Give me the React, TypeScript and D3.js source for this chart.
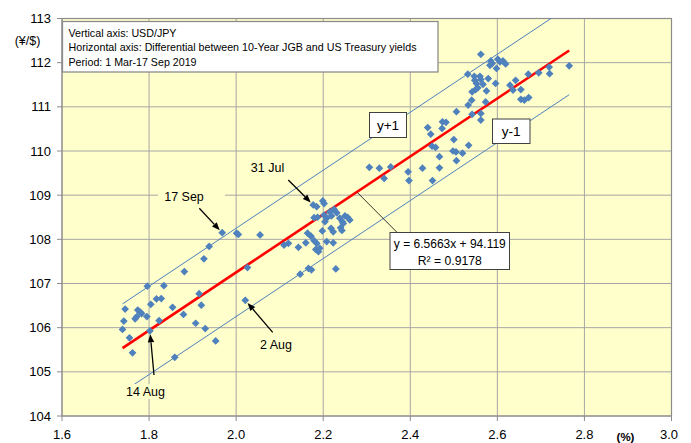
import React from 'react';
import * as d3 from 'd3';

// USD/JPY (y) vs US-Japan 10Y yield differential in % (x), 1 Mar - 17 Sep 2019
const points: [number, number][] = [
  [1.745, 106.42], [1.774, 106.40], [1.779, 106.36], [1.783, 106.32], [1.768, 106.20],
  [1.772, 106.25], [1.742, 106.15], [1.739, 105.96], [1.755, 105.77], [1.762, 105.43],
  [1.795, 106.25], [1.802, 105.93], [1.804, 106.53], [1.817, 106.65], [1.828, 106.66],
  [1.796, 106.94], [1.834, 106.95], [1.823, 106.16], [1.854, 106.46], [1.879, 106.30],
  [1.881, 107.27], [1.915, 106.77], [1.920, 106.51], [1.907, 106.10], [1.929, 105.98],
  [1.953, 105.70], [1.859, 105.33], [1.926, 107.56], [1.938, 107.84], [1.968, 108.15],
  [2.001, 108.14], [2.005, 108.11], [2.055, 108.10], [2.026, 107.36], [2.021, 106.62],
  [2.110, 107.87], [2.120, 107.91], [2.143, 107.82], [2.160, 107.92], [2.179, 107.97],
  [2.185, 107.91], [2.208, 107.95], [2.223, 107.92], [2.183, 107.77], [2.189, 107.72],
  [2.192, 107.80], [2.164, 108.14], [2.172, 108.07], [2.198, 108.19], [2.218, 108.25],
  [2.223, 108.17], [2.240, 108.26], [2.243, 108.20], [2.177, 108.78], [2.185, 108.74],
  [2.199, 108.87], [2.202, 108.81], [2.179, 108.49], [2.187, 108.50], [2.202, 108.55],
  [2.208, 108.48], [2.204, 108.40], [2.215, 108.62], [2.225, 108.68], [2.231, 108.60],
  [2.219, 108.53], [2.238, 108.48], [2.244, 108.40], [2.250, 108.53], [2.256, 108.50],
  [2.261, 108.44], [2.246, 108.36], [2.147, 107.21], [2.166, 107.34], [2.173, 107.31],
  [2.229, 107.33], [2.306, 109.63], [2.329, 109.61], [2.340, 109.38], [2.355, 109.64],
  [2.395, 109.53], [2.397, 109.33], [2.428, 109.61], [2.451, 109.33], [2.467, 109.62],
  [2.467, 109.87], [2.440, 110.53], [2.447, 110.38], [2.450, 110.11], [2.458, 110.08],
  [2.474, 110.66], [2.482, 110.65], [2.473, 110.51], [2.500, 110.26], [2.498, 110.00],
  [2.505, 109.98], [2.520, 109.95], [2.534, 110.13], [2.506, 109.78], [2.506, 110.89],
  [2.542, 110.83], [2.562, 110.85], [2.562, 110.70], [2.562, 112.19], [2.585, 112.04],
  [2.588, 111.98], [2.583, 111.94], [2.601, 112.08], [2.606, 112.02], [2.613, 112.04],
  [2.619, 111.97], [2.598, 111.87], [2.532, 111.74], [2.547, 111.69], [2.560, 111.69],
  [2.548, 111.60], [2.562, 111.62], [2.552, 111.53], [2.567, 111.51], [2.579, 111.64],
  [2.596, 111.53], [2.542, 111.34], [2.550, 111.39], [2.555, 111.43], [2.575, 111.36],
  [2.541, 111.15], [2.533, 111.04], [2.573, 111.11], [2.629, 111.49], [2.642, 111.60],
  [2.636, 111.38], [2.654, 111.39], [2.654, 111.17], [2.662, 111.15], [2.672, 111.21],
  [2.671, 111.74], [2.695, 111.77], [2.719, 111.90], [2.720, 111.75], [2.765, 111.93],
];

const xTicks = [1.6, 1.8, 2.0, 2.2, 2.4, 2.6, 2.8, 3.0];
const yTicks = [104, 105, 106, 107, 108, 109, 110, 111, 112, 113];

// linear fit shown on the chart
const slope = 6.5663;
const intercept = 94.119;
const rSquared = 0.9178;
const bandOffsets = [1, 0, -1];

const infoLines = [
  'Vertical axis: USD/JPY',
  'Horizontal axis: Differential between 10-Year JGB and US Treasury yields',
  'Period: 1 Mar-17 Sep 2019',
];
const infoWidths = [108, 348, 128];

const callouts = [
  { label: '17 Sep', x: 1.968, y: 108.15 },
  { label: '31 Jul', x: 2.177, y: 108.78 },
  { label: '2 Aug', x: 2.021, y: 106.62 },
  { label: '14 Aug', x: 1.802, y: 105.93 },
];

// text centre / arrow tail in pixels, one per callout
const calloutLayout = [
  { tx: 184, ty: 200.5, ax: 199.3, ay: 208.3, bg: [158, 188, 67, 16] },
  { tx: 267.5, ty: 171.5, ax: 288.3, ay: 180, bg: null },
  { tx: 276, ty: 349, ax: 272.7, ay: 332.3, bg: null },
  { tx: 145.5, ty: 396, ax: 154, ay: 375, bg: [122, 384, 48, 15] },
];

const W = 691;
const H = 443;
const left = 62;
const right = 671.5;
const top = 18.5;
const bottom = 416;
const plotFill = '#FFFFCC';
const gridColor = '#A6A6A6';
const dotColor = '#4F81BD';
const font = 'Liberation Sans, Arial, sans-serif';

export default function App() {
  const x = d3.scaleLinear().domain([1.6, 3.0]).range([left, right]);
  const y = d3.scaleLinear().domain([104, 113]).range([bottom, top]);

  const xMin = d3.min(points, (d) => d[0]) as number;
  const xMax = d3.max(points, (d) => d[0]) as number;

  const diamond = d3.symbol(d3.symbolSquare, 30)() as string;

  const fitPath = (off: number) =>
    d3
      .line<number>()
      .x((v) => x(v))
      .y((v) => y(slope * v + intercept + off))([xMin, xMax]) as string;

  return (
    <svg
      width={W}
      height={H}
      style={{ position: 'absolute', left: 0, top: 0, background: '#fff' }}
      fontFamily={font}
    >
      <defs>
        <clipPath id="plot">
          <rect x={left} y={top} width={right - left} height={bottom - top} />
        </clipPath>
      </defs>

      <rect x={left} y={top} width={right - left} height={bottom - top} fill={plotFill} />

      {/* grid */}
      {xTicks.map((t) => (
        <line key={'gx' + t} x1={x(t)} x2={x(t)} y1={top} y2={bottom} stroke={gridColor} strokeWidth={1} />
      ))}
      {yTicks.map((t) => (
        <line key={'gy' + t} x1={left} x2={right} y1={y(t)} y2={y(t)} stroke={gridColor} strokeWidth={1} />
      ))}

      {/* axes and ticks */}
      <rect x={left} y={top} width={right - left} height={bottom - top} fill="none" stroke="#8C8C8C" strokeWidth={1.2} />
      {yTicks.map((t) => (
        <g key={'yt' + t}>
          <line x1={left - 5} x2={left} y1={y(t)} y2={y(t)} stroke="#8C8C8C" />
          <text x={51} y={y(t) + 4.5} textAnchor="end" fontSize={13}>
            {t}
          </text>
        </g>
      ))}
      {xTicks.map((t) => (
        <g key={'xt' + t}>
          <line x1={x(t)} x2={x(t)} y1={bottom} y2={bottom + 5} stroke="#8C8C8C" />
          <text x={x(t) - (t === 3.0 ? 2.5 : 0)} y={439} textAnchor="middle" fontSize={13}>
            {t.toFixed(1)}
          </text>
        </g>
      ))}
      <text x={27.5} y={44.5} textAnchor="middle" fontSize={12.5}>
        (¥/$)
      </text>
      <text x={625.5} y={441} textAnchor="middle" fontSize={11.5} fontWeight="bold">
        (%)
      </text>

      {/* fit line and +-1 band */}
      <g clipPath="url(#plot)">
        {bandOffsets.map((off) => (
          <path
            key={'fit' + off}
            d={fitPath(off)}
            fill="none"
            stroke={off === 0 ? '#FF0000' : dotColor}
            strokeWidth={off === 0 ? 2.6 : 1}
          />
        ))}
      </g>

      {/* points */}
      {points.map((p, i) => (
        <path
          key={i}
          d={diamond}
          transform={`translate(${x(p[0])},${y(p[1])}) rotate(45)`}
          fill={dotColor}
        />
      ))}

      {/* info box */}
      <rect x={62.5} y={21.5} width={375.5} height={50.5} fill="#fff" stroke="#8C8C8C" strokeWidth={1.3} />
      {infoLines.map((s, i) => (
        <text
          key={s}
          x={68.5}
          y={36.5 + i * 14.8}
          fontSize={11.5}
          textLength={infoWidths[i]}
          lengthAdjust="spacingAndGlyphs"
        >
          {s}
        </text>
      ))}

      {/* band labels */}
      <rect x={369.5} y={112.5} width={37} height={25} fill="#fff" stroke="#404040" strokeWidth={1} />
      <text x={388} y={129.5} textAnchor="middle" fontSize={13.5}>
        y+1
      </text>
      <rect x={492.5} y={119} width={37.5} height={24.5} fill="#fff" stroke="#404040" strokeWidth={1} />
      <text x={511.2} y={136} textAnchor="middle" fontSize={13.5}>
        y-1
      </text>

      {/* equation */}
      <line x1={357.5} y1={192.7} x2={396.7} y2={232} stroke="#000" strokeWidth={0.8} />
      <rect x={390} y={232.5} width={119.5} height={37} fill="#fff" stroke="#404040" strokeWidth={1} />
      <text x={449.8} y={247.5} textAnchor="middle" fontSize={13.5} textLength={112} lengthAdjust="spacingAndGlyphs">
        {`y = ${slope}x + ${intercept}`}
      </text>
      <text x={449.8} y={265} textAnchor="middle" fontSize={13.5} textLength={64} lengthAdjust="spacingAndGlyphs">
        {`R² = ${rSquared}`}
      </text>

      {/* date callouts */}
      {callouts.map((c, i) => {
        const L = calloutLayout[i];
        const px = x(c.x);
        const py = y(c.y);
        const dx = px - L.ax;
        const dy = py - L.ay;
        const len = Math.hypot(dx, dy);
        const ux = dx / len;
        const uy = dy / len;
        const hx = px - ux * 3.5;
        const hy = py - uy * 3.5;
        const bx = hx - ux * 8;
        const by = hy - uy * 8;
        const head = `${hx},${hy} ${bx - uy * 3.2},${by + ux * 3.2} ${bx + uy * 3.2},${by - ux * 3.2}`;
        return (
          <g key={c.label}>
            {L.bg && <rect x={L.bg[0]} y={L.bg[1]} width={L.bg[2]} height={L.bg[3]} fill={plotFill} />}
            <text x={L.tx} y={L.ty} textAnchor="middle" fontSize={12.5}>
              {c.label}
            </text>
            <line x1={L.ax} y1={L.ay} x2={bx} y2={by} stroke="#000" strokeWidth={1.3} />
            <polygon points={head} fill="#000" />
          </g>
        );
      })}
    </svg>
  );
}
